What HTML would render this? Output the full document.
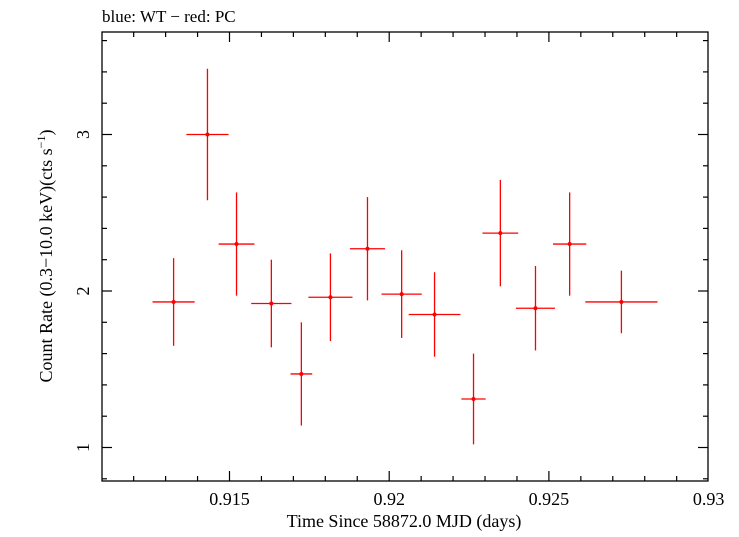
<!DOCTYPE html>
<html><head><meta charset="utf-8"><style>
body{margin:0;background:#fff;}
svg text{font-family:"Liberation Serif",serif;fill:#000;}
</style></head><body>
<svg id="chart" width="739" height="532">
<text x="102" y="22" font-size="17">blue: WT − red: PC</text>
<rect x="102" y="32" width="606" height="449" fill="none" stroke="#000" stroke-width="1.3"/>
<g id="ticks"></g>
<g id="marks"></g>
<text x="404" y="527" font-size="18" text-anchor="middle">Time Since 58872.0 MJD (days)</text>
<text transform="translate(52,256) rotate(-90)" font-size="18" text-anchor="middle">Count Rate (0.3−10.0 keV)(cts s<tspan baseline-shift="super" font-size="12">−1</tspan>)</text>
</svg>
<script>
const timeValues=[0.91325,0.91431,0.91522,0.91631,0.91725,0.91816,0.91932,0.92039,0.92142,0.92264,0.92348,0.92458,0.92565,0.92727];
const timeErrors=[0.00066,0.00066,0.00056,0.00063,0.00034,0.00069,0.00055,0.00063,0.00081,0.00038,0.00056,0.00061,0.00052,0.00113];
const rateValues=[1.93,3.00,2.30,1.92,1.47,1.96,2.27,1.98,1.85,1.31,2.37,1.89,2.30,1.93];
const rateErrors=[0.28,0.42,0.33,0.28,0.33,0.28,0.33,0.28,0.27,0.29,0.34,0.27,0.33,0.20];
const xTickLabels=["0.915","0.92","0.925","0.93"];
const yTickLabels=["1","2","3"];
const NS="http://www.w3.org/2000/svg";
const L=102,R=708,T=32,B=481;
const X0=0.915,XP0=229.5,XS=159.7/0.005;
const xs=v=>XP0+(v-X0)*XS;
const ys=v=>291-(v-2)*156.5;
function mk(tag,attrs,parent){const e=document.createElementNS(NS,tag);for(const k in attrs)e.setAttribute(k,attrs[k]);parent.appendChild(e);return e;}
const tk=document.getElementById('ticks');
// x ticks
for(let i=0;i<=20;i++){const v=0.911+i*0.001;const px=xs(v);if(px<L||px>R)continue;
 const major=Math.abs(Math.round(v*1000)%5)===0;const len=major?10:5;
 const a=mk('line',{x1:px,x2:px,y1:B,y2:B-len,stroke:'#000','stroke-width':1.2},tk);
 
 
 const b=mk('line',{x1:px,x2:px,y1:T,y2:T+len,stroke:'#000','stroke-width':1.2},tk);
 
 
}
xTickLabels.forEach(s=>{const t=mk('text',{x:xs(parseFloat(s)),y:505,'font-size':18,'text-anchor':'middle'},tk);t.textContent=s;
 
 });
// y ticks
for(let i=0;i<=20;i++){const v=0.8+i*0.2;const py=ys(v);if(py<T||py>B)continue;
 const major=Math.abs(v-Math.round(v))<1e-6;const len=major?10:5;
 const a=mk('line',{x1:L,x2:L+len,y1:py,y2:py,stroke:'#000','stroke-width':1.2},tk);
 
 
 const b=mk('line',{x1:R,x2:R-len,y1:py,y2:py,stroke:'#000','stroke-width':1.2},tk);
 
 
}
yTickLabels.forEach(s=>{const v=parseFloat(s);const t=mk('text',{x:0,y:0,'font-size':18,'text-anchor':'middle',transform:`translate(89,${ys(v)}) rotate(-90)`},tk);t.textContent=s;
 
 });
// data
const mg=document.getElementById('marks');
timeValues.forEach((t,i)=>{const g=mk('g',{},mg);
 
 
 const cx=xs(t),cy=ys(rateValues[i]);
 mk('line',{x1:xs(t-timeErrors[i]),x2:xs(t+timeErrors[i]),y1:cy,y2:cy,stroke:'#f00','stroke-width':1.3},g);
 mk('line',{x1:cx,x2:cx,y1:ys(rateValues[i]+rateErrors[i]),y2:ys(rateValues[i]-rateErrors[i]),stroke:'#f00','stroke-width':1.3},g);
 mk('circle',{cx:cx,cy:cy,r:2,fill:'#f00'},g);
});
</script>
</body></html>
